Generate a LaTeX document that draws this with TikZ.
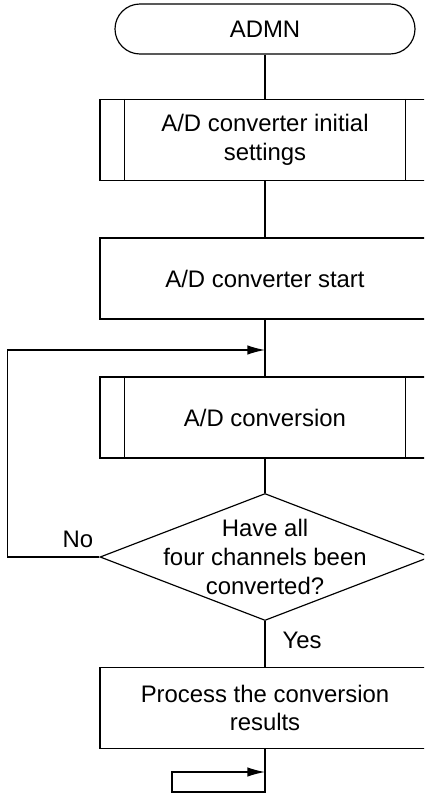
\documentclass[tikz,border=0pt]{standalone}
\usepackage{fontspec}
\setmainfont{Liberation Sans}
\usetikzlibrary{arrows.meta,shapes.geometric}

\begin{document}
\begin{tikzpicture}[x=0.03cm,y=-0.03cm,line width=1pt,>={Latex[length=15pt,width=8pt]},
  font=\fontsize{20.4}{24.5}\selectfont,
  box/.style={draw,rectangle,minimum width=9.9cm,minimum height=2.43cm,inner sep=0pt,align=center},
  term/.style={draw,rectangle,rounded corners=0.75cm,minimum width=9cm,minimum height=1.5cm,inner sep=0pt},
  decision/.style={draw,diamond,minimum width=9.9cm,minimum height=3.81cm,inner sep=0pt}]
 \useasboundingbox (0,0) rectangle (424,794);
 \clip (0,0) rectangle (424,794);
 \node[term] (admn) at (265,29) {ADMN};
 \node[box] (init) at (265,140) {A/D converter initial\\settings};
 \node[box] (start) at (265,278.5) {A/D converter start};
 \node[box] (conv) at (265,417.5) {A/D conversion};
 \node[decision,label={[align=center]center:Have all\\four channels been\\converted?}] (check) at (265,557) {};
 \node[box] (proc) at (265,708) {Process the conversion\\results};
 \node (nolab) at (78,539) {No};
 \node (yeslab) at (302,640) {Yes};
 \coordinate (merge) at (265,350);
 \coordinate (tail) at (265,772);
 \coordinate (bot) at (172,792);
 % side bars of the subroutine boxes
 \foreach \n in {init,conv} {
  \draw ([xshift=0.75cm]\n.north west) -- ([xshift=0.75cm]\n.south west);
  \draw ([xshift=-0.75cm]\n.north east) -- ([xshift=-0.75cm]\n.south east);
 }
 \draw (admn) -- (init);
 \draw (init) -- (start);
 \draw (start) -- (conv);
 \draw (conv) -- (check);
 \draw (check) -- (proc);
 \draw[->] (check.west) -- ++(-92,0) |- (merge);
 \draw[->] (proc.south) |- (bot) |- (tail);
\end{tikzpicture}
\end{document}
